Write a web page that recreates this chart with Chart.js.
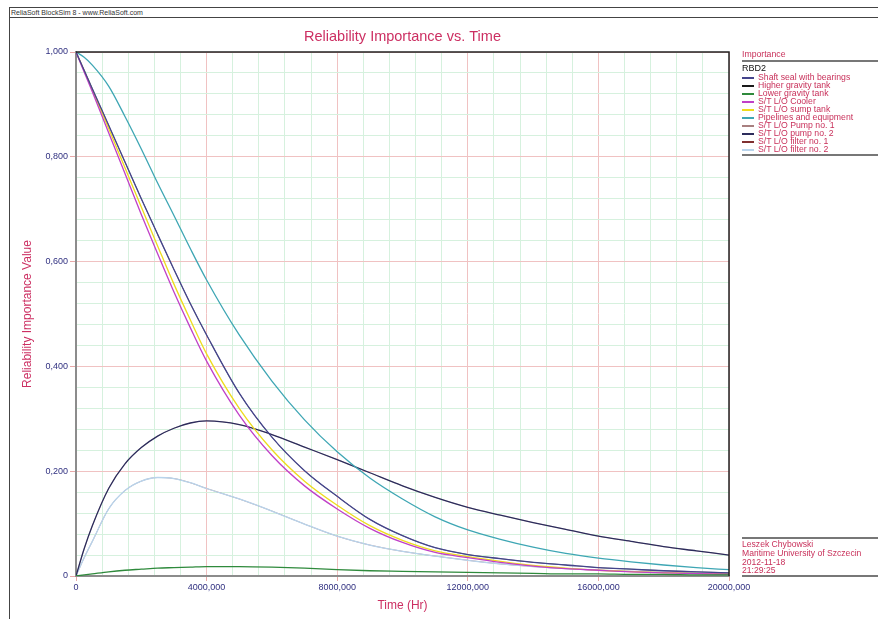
<!DOCTYPE html>
<html>
<head>
<meta charset="utf-8">
<script src="https://cdn.jsdelivr.net/npm/chart.js@4.4.0/dist/chart.umd.min.js"></script>
<style>
html, body { margin: 0; padding: 0; background: #fff; }
body { width: 878px; height: 619px; position: relative; overflow: hidden; font-family: "Liberation Sans", Arial, sans-serif; }
canvas { position: absolute; left: 0; top: 0; }
.rule { position: absolute; height: 0; border-top: 1px solid #444; }
#frameLeft { position: absolute; left: 9px; top: 7px; bottom: 0; border-left: 1px solid #444; }
#header { position: absolute; left: 11px; top: 9px; font-size: 7px; line-height: 8px; color: #333; white-space: nowrap; }
#legend { position: absolute; left: 742px; top: 49px; width: 136px; color: #c8305a; font-size: 8.7px; }
#legend .head { line-height: 11px; height: 11px; border-bottom: 2px solid #777; }
#legend .rbd { color: #111; line-height: 10px; height: 10px; margin-top: 1px; font-size: 9px; }
#legend .row { line-height: 8px; height: 8px; white-space: nowrap; }
#legend .sw { display: inline-block; width: 12px; height: 2px; vertical-align: middle; margin-right: 4px; }
#legend .end { border-top: 2px solid #777; margin-top: 1px; }
#info { position: absolute; left: 742px; top: 537px; width: 136px; color: #c8305a; font-size: 8.6px; border-top: 2px solid #777; border-bottom: 2px solid #777; padding-top: 1px; }
#info div { line-height: 8.8px; height: 8.8px; white-space: nowrap; }
</style>
</head>
<body>
<div class="rule" style="left:9px;right:0;top:7px"></div>
<div class="rule" style="left:9px;right:0;top:17px"></div>
<div id="frameLeft"></div>
<div id="header">ReliaSoft BlockSim 8 - www.ReliaSoft.com</div>
<canvas id="chart" width="878" height="619"></canvas>
<div id="legend"></div>
<div id="info">
  <div>Leszek Chybowski</div>
  <div>Maritime University of Szczecin</div>
  <div>2012-11-18</div>
  <div>21:29:25</div>
</div>
<script>
// operating time (Hr)
const times = [0, 250, 500, 1000, 1500, 2000, 2500, 3000, 3500, 4000, 5000, 6000, 7000,
  8000, 9000, 10000, 11000, 12000, 13000, 14000, 15000, 16000, 17000, 18000, 19000, 20000];

// reliability importance values
const shaftSeal = [1.000, 0.965, 0.930, 0.860, 0.790, 0.720, 0.652, 0.585, 0.520, 0.460, 0.349, 0.265, 0.201,
  0.152, 0.108, 0.077, 0.054, 0.041, 0.033, 0.026, 0.021, 0.016, 0.013, 0.010, 0.008, 0.006];
const lowerGravity = [0, 0.002, 0.004, 0.008, 0.011, 0.013, 0.015, 0.016, 0.017, 0.018, 0.018, 0.017, 0.015,
  0.012, 0.010, 0.009, 0.008, 0.007, 0.006, 0.005, 0.004, 0.004, 0.003, 0.003, 0.002, 0.002];
const cooler = [1.000, 0.962, 0.924, 0.846, 0.768, 0.690, 0.615, 0.542, 0.474, 0.410, 0.307, 0.230, 0.172,
  0.128, 0.091, 0.064, 0.045, 0.035, 0.026, 0.019, 0.014, 0.011, 0.008, 0.006, 0.0045, 0.0035];
const sumpTank = [1.000, 0.964, 0.928, 0.854, 0.779, 0.704, 0.630, 0.557, 0.489, 0.424, 0.320, 0.241, 0.181,
  0.135, 0.096, 0.068, 0.048, 0.037, 0.028, 0.020, 0.015, 0.011, 0.0085, 0.0065, 0.005, 0.004];
const pipelines = [1.000, 0.990, 0.975, 0.935, 0.877, 0.815, 0.750, 0.688, 0.625, 0.565, 0.460, 0.372, 0.298,
  0.237, 0.187, 0.147, 0.113, 0.088, 0.070, 0.055, 0.043, 0.034, 0.027, 0.021, 0.016, 0.012];
const pumps = [0, 0.052, 0.096, 0.167, 0.214, 0.245, 0.267, 0.282, 0.292, 0.296, 0.289, 0.270, 0.246,
  0.222, 0.197, 0.172, 0.150, 0.131, 0.116, 0.102, 0.089, 0.076, 0.066, 0.056, 0.048, 0.040];
const filters = [0, 0.035, 0.066, 0.128, 0.163, 0.181, 0.188, 0.186, 0.178, 0.167, 0.147, 0.124, 0.099,
  0.076, 0.059, 0.047, 0.038, 0.030, 0.023, 0.018, 0.014, 0.011, 0.009, 0.007, 0.006, 0.005];

const seriesNames = ['Shaft seal with bearings', 'Higher gravity tank', 'Lower gravity tank', 'S/T L/O Cooler',
  'S/T L/O sump tank', 'Pipelines and equipment', 'S/T L/O Pump no. 1', 'S/T L/O pump no. 2',
  'S/T L/O filter no. 1', 'S/T L/O filter no. 2'];
const seriesValues = [shaftSeal, shaftSeal, lowerGravity, cooler, sumpTank, pipelines, pumps, pumps, filters, filters];
const seriesColors = ['#44448c', '#1a1a1a', '#2f8a3c', '#c040c8', '#eedc1c', '#3ea6b4', '#a88080', '#2c2c5c', '#803030', '#b8d4ec'];
// curves that lie exactly under another one
const seriesUnder = [false, true, false, false, false, false, true, false, true, false];

const xTicks = [0, 4000, 8000, 12000, 16000, 20000];
const yTicks = [0, 0.2, 0.4, 0.6, 0.8, 1.0];

const majorPink = '#f0c2c2';
const minorGreen = '#d6f1de';
const titleRed = '#cc2f62';
const tickBlue = '#303080';

function isMajorX(v) { return xTicks.some(t => Math.abs(t - v) < 1e-6); }
function isMajorY(v) { return yTicks.some(t => Math.abs(t - v) < 1e-6); }
function fmt(v) { return v === 0 ? '0' : v.toFixed(3).replace('.', ','); }

// legend panel
const legend = document.getElementById('legend');
let html = '<div class="head">Importance</div><div class="rbd">RBD2</div>';
seriesNames.forEach((n, i) => {
  html += '<div class="row"><span class="sw" style="background-color:' + seriesColors[i] + '"></span>' + n + '</div>';
});
html += '<div class="end"></div>';
legend.innerHTML = html;

const datasets = seriesNames.map((n, i) => ({
  label: n,
  data: times.map((t, j) => ({ x: t, y: seriesValues[i][j] })),
  borderColor: seriesColors[i],
  borderWidth: seriesUnder[i] ? 0.5 : 1.3,
  pointRadius: 0,
  cubicInterpolationMode: 'monotone',
  order: seriesUnder[i] ? 2 : 1
}));

const frame = {
  id: 'frame',
  afterDatasetsDraw(chart) {
    const a = chart.chartArea, ctx = chart.ctx;
    ctx.save();
    ctx.strokeStyle = '#222';
    ctx.lineWidth = 1.5;
    ctx.beginPath();
    ctx.moveTo(a.left, a.top);
    ctx.lineTo(a.right, a.top);
    ctx.lineTo(a.right, a.bottom);
    ctx.stroke();
    ctx.restore();
  }
};

new Chart(document.getElementById('chart'), {
  type: 'line',
  data: { datasets },
  plugins: [frame],
  options: {
    responsive: false,
    animation: false,
    layout: { padding: { left: 0, right: 149, top: 0, bottom: 0 } },
    plugins: {
      legend: { display: false },
      tooltip: { enabled: false },
      title: {
        display: true,
        fullSize: false,
        text: 'Reliability Importance vs. Time',
        color: titleRed,
        font: { family: 'Liberation Sans', size: 14.5, weight: 'normal' },
        padding: { top: 28, bottom: 6.6 }
      }
    },
    scales: {
      x: {
        type: 'linear',
        min: 0, max: 20000,
        afterFit(s) { s.height = 43; },
        ticks: {
          stepSize: 800, autoSkip: false, maxRotation: 0, padding: 1,
          color: tickBlue, font: { family: 'Liberation Sans', size: 9 },
          callback: v => isMajorX(v) ? fmt(v) : ''
        },
        grid: {
          color: c => isMajorX(c.tick.value) ? majorPink : minorGreen,
          tickColor: c => isMajorX(c.tick.value) ? '#e8a8a8' : 'rgba(0,0,0,0)',
          tickLength: 5
        },
        border: { color: '#8c8c8c', width: 2 },
        title: {
          display: true, text: 'Time (Hr)', color: titleRed,
          font: { family: 'Liberation Sans', size: 12 }, padding: { bottom: 6 }
        }
      },
      y: {
        min: 0, max: 1,
        afterFit(s) { s.width = 76; },
        ticks: {
          stepSize: 0.04, autoSkip: false, padding: 2,
          color: tickBlue, font: { family: 'Liberation Sans', size: 9 },
          callback: v => isMajorY(v) ? fmt(v) : ''
        },
        grid: {
          color: c => isMajorY(c.tick.value) ? majorPink : minorGreen,
          tickColor: c => isMajorY(c.tick.value) ? '#e8a8a8' : 'rgba(0,0,0,0)',
          tickLength: 6
        },
        border: { color: '#8c8c8c', width: 2 },
        title: {
          display: true, text: 'Reliability Importance Value', color: titleRed,
          font: { family: 'Liberation Sans', size: 12 }, padding: { top: 20 }
        }
      }
    }
  }
});
</script>
</body>
</html>
